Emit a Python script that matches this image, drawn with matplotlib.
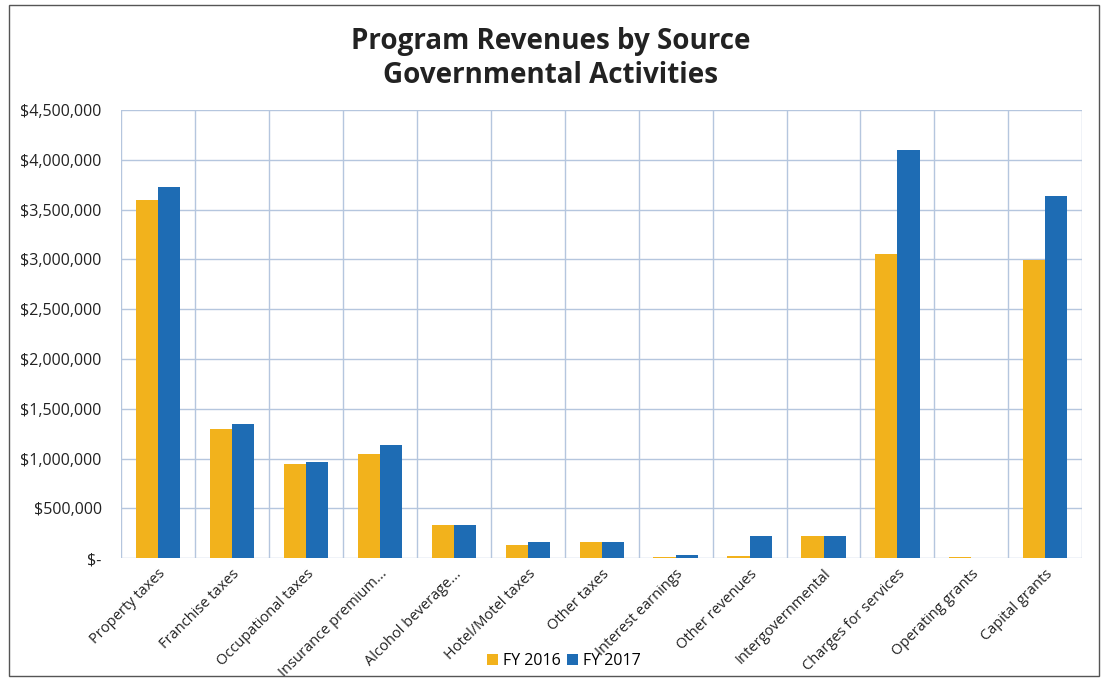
import matplotlib
matplotlib.use("Agg")
import matplotlib.pyplot as plt
import numpy as np
from matplotlib.ticker import FuncFormatter, FixedLocator

categories = ["Property taxes", "Franchise taxes", "Occupational taxes",
              "Insurance premium...", "Alcohol beverage...", "Hotel/Motel taxes",
              "Other taxes", "Interest earnings", "Other revenues",
              "Intergovernmental", "Charges for services", "Operating grants",
              "Capital grants"]
fy2016 = [3600000, 1300000, 945000, 1050000, 332000, 132000, 158000, 13000,
          23000, 218000, 3055000, 10000, 2995000]
fy2017 = [3730000, 1343000, 968000, 1138000, 335000, 164000, 164000, 27000,
          224000, 218000, 4098000, 0, 3632000]
series_labels = ["FY 2016", "FY 2017"]
yticks = [0, 500000, 1000000, 1500000, 2000000, 2500000, 3000000, 3500000,
          4000000, 4500000]

plt.rcParams['font.family'] = ['Open Sans', 'DejaVu Sans']

fig = plt.figure(figsize=(11.01, 6.79), dpi=100)
ax = fig.add_axes([0.110, 0.178, 0.873, 0.660])

x = np.arange(len(categories))
w = 0.3
c16 = "#F2B21C"
c17 = "#1E6CB4"
ax.bar(x - w/2, fy2016, w, color=c16, label=series_labels[0], zorder=3)
ax.bar(x + w/2, fy2017, w, color=c17, label=series_labels[1], zorder=3)

ax.set_xlim(-0.5, len(categories) - 0.5)
ax.set_ylim(0, 4500000)
ax.set_yticks(yticks)

def fmt(v, pos):
    if v == 0:
        return "$-"
    return "${:,.0f}".format(v)
ax.yaxis.set_major_formatter(FuncFormatter(fmt))

ax.set_xticks(x)
ax.set_xticklabels(categories, rotation=45, ha="right", rotation_mode="anchor",
                   fontsize=10.5, color="#222222")
ax.xaxis.set_minor_locator(FixedLocator(np.arange(-0.5, len(categories), 1.0)))
grid_c = "#B5C6DE"
ax.grid(True, axis="y", which="major", color=grid_c, linewidth=1.0, zorder=0)
ax.grid(True, axis="x", which="minor", color=grid_c, linewidth=1.0, zorder=0)
ax.tick_params(axis="x", which="both", length=0, pad=6)
ax.tick_params(axis="y", length=0, labelsize=11.5, labelcolor="#222222", pad=14)
for s in ax.spines.values():
    s.set_visible(False)

fig.suptitle("Program Revenues by Source\nGovernmental Activities", y=0.96,
             fontsize=20, fontweight="bold", color="#222222", linespacing=1.2)

fig.legend(loc="lower center", bbox_to_anchor=(0.512, -0.006), ncol=2, frameon=False,
           fontsize=11.5, handlelength=0.7, handleheight=0.7, columnspacing=0.4,
           handletextpad=0.3)

border = plt.Rectangle((0.008, 0.005), 0.99, 0.988, transform=fig.transFigure,
                       fill=False, edgecolor="#555555", linewidth=1.0)
fig.add_artist(border)

fig.savefig("out.png", dpi=100, facecolor="white")
